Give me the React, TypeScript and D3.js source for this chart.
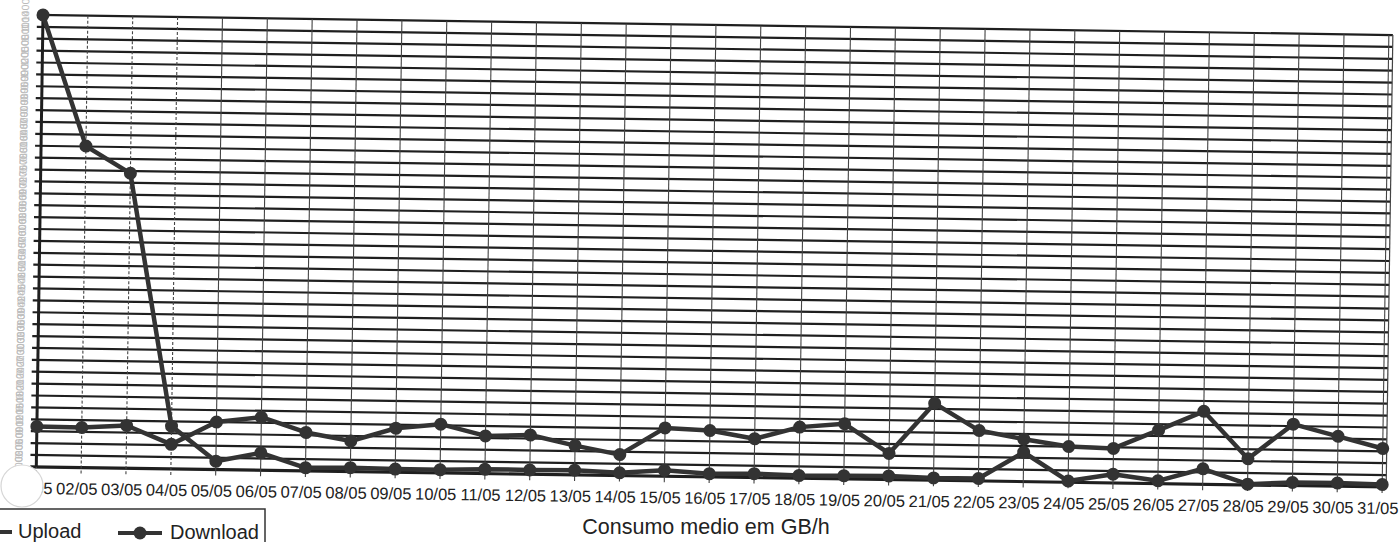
import { scaleLinear, scalePoint, line, range, format } from "d3";

// daily averages (GB/h)
const days = [
  "01/05", "02/05", "03/05", "04/05", "05/05", "06/05", "07/05", "08/05",
  "09/05", "10/05", "11/05", "12/05", "13/05", "14/05", "15/05", "16/05",
  "17/05", "18/05", "19/05", "20/05", "21/05", "22/05", "23/05", "24/05",
  "25/05", "26/05", "27/05", "28/05", "29/05", "30/05", "31/05",
];

const upload = [
  0.102, 0.101, 0.108, 0.062, 0.12, 0.134, 0.097, 0.077, 0.111, 0.123, 0.095,
  0.099, 0.074, 0.053, 0.122, 0.117, 0.098, 0.129, 0.139, 0.066, 0.194, 0.127,
  0.107, 0.09, 0.087, 0.135, 0.184, 0.066, 0.155, 0.126, 0.097,
];

const download = [
  1.14, 0.811, 0.744, 0.108, 0.021, 0.044, 0.008, 0.01, 0.008, 0.008, 0.011,
  0.011, 0.012, 0.007, 0.015, 0.008, 0.01, 0.007, 0.008, 0.009, 0.006, 0.006,
  0.074, 0.003, 0.022, 0.007, 0.039, 0.002, 0.008, 0.008, 0.006,
];

const yMax = 1.14;
const yStep = 0.03;

const series = [
  { name: "Upload", values: upload },
  { name: "Download", values: download },
];

const width = 1400;
const height = 542;
const left = 43;
const top = 15;
const plotW = 1350;
const plotH = 452;
const tilt = 0.85; // the scan is slightly rotated
const ink = "#1f1f1f";

export default function App() {
  const x = scalePoint<string>().domain(days).range([0, plotW - 4]);
  const y = scaleLinear().domain([0, yMax]).range([plotH, 0]);
  const yTicks = range(0, Math.round(yMax / yStep) + 1).map((i) => i * yStep);
  const fmt = format(".4f");

  const path = line<number>()
    .x((_, i) => x(days[i]) as number)
    .y((d) => y(d));

  return (
    <svg
      width={width}
      height={height}
      style={{ position: "absolute", left: 0, top: 0, background: "#fff" }}
      fontFamily="'Liberation Sans', Arial, sans-serif"
    >
      <rect width={width} height={height} fill="#fff" />
      <g transform={`rotate(${tilt},${left},${top}) translate(${left},${top})`}>
        {/* faint y labels, blurred in the scan */}
        {yTicks.map((t) => (
          <text
            key={"yl" + t}
            transform={`translate(-14,${y(t)}) rotate(-90)`}
            textAnchor="middle"
            fontSize={10.5}
            fill="#bdbdbd"
          >
            {fmt(t)}
          </text>
        ))}
        {/* horizontal grid */}
        {yTicks.map((t) => (
          <line
            key={"h" + t}
            x1={-6}
            x2={plotW}
            y1={y(t)}
            y2={y(t)}
            stroke={ink}
            strokeWidth={t === 0 ? 3.2 : 2.2}
          />
        ))}
        {/* vertical grid + ticks */}
        {days.map((d) => (
          <line
            key={"v" + d}
            x1={x(d)}
            x2={x(d)}
            y1={0}
            y2={plotH + 6}
            stroke="#444"
            strokeWidth={1.1}
            strokeDasharray={(x(d) as number) < 140 ? "3 2" : undefined}
          />
        ))}
        <line x1={0} x2={0} y1={0} y2={plotH} stroke={ink} strokeWidth={3} />
        <line x1={plotW} x2={plotW} y1={0} y2={plotH} stroke="#444" strokeWidth={1.2} />
        {/* x labels */}
        {days.map((d) => (
          <text
            key={"xl" + d}
            x={(x(d) as number) - 4}
            y={plotH + 27}
            textAnchor="middle"
            fontSize={16.5}
            fill="#222"
          >
            {d}
          </text>
        ))}
        {/* series */}
        {series.map((s) => (
          <g key={s.name}>
            <path d={path(s.values) ?? ""} fill="none" stroke="#333" strokeWidth={4.5} strokeLinejoin="round" />
            {s.values.map((v, i) => (
              <circle key={i} cx={x(days[i])} cy={y(v)} r={6.5} fill="#333" />
            ))}
          </g>
        ))}
      </g>
      {/* scan blot over the first label */}
      <circle cx={22} cy={486} r={21} fill="#fff" stroke="#d6d6d6" strokeWidth={1.2} />
      <text x={706} y={534} textAnchor="middle" fontSize={21.5} fill="#222">
        Consumo medio em GB/h
      </text>
      {/* legend */}
      <rect x={-6} y={509} width={271} height={45} fill="none" stroke="#333" strokeWidth={1.5} />
      <line x1={-30} x2={12} y1={532} y2={532} stroke="#333" strokeWidth={4} />
      <text x={18} y={538} fontSize={20} fill="#222">
        {series[0].name}
      </text>
      <line x1={118} x2={162} y1={533} y2={533} stroke="#333" strokeWidth={4} />
      <circle cx={140} cy={533} r={6.5} fill="#333" />
      <text x={170} y={539} fontSize={20} fill="#222">
        {series[1].name}
      </text>
    </svg>
  );
}
